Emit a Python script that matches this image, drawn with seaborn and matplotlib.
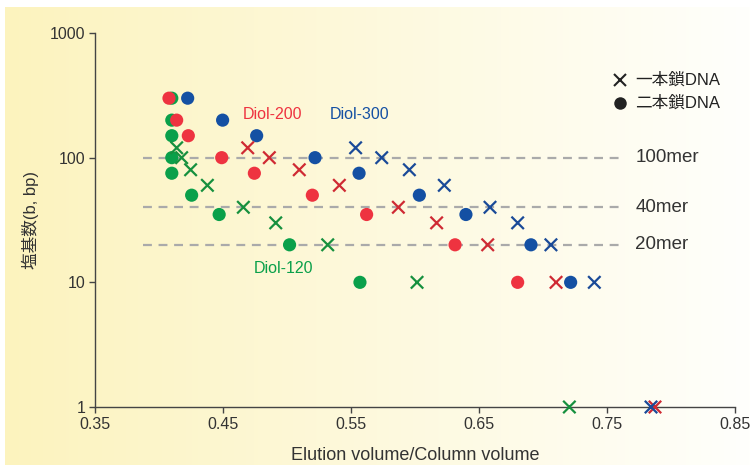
import numpy as np
import pandas as pd
import matplotlib
matplotlib.use("Agg")
import matplotlib.pyplot as plt
import seaborn as sns

# Double-stranded DNA (circles): elution volume / column volume vs. base pairs
ds_120_x = [0.410, 0.410, 0.410, 0.410, 0.410, 0.4255, 0.447, 0.502, 0.557]
ds_120_y = [300, 200, 150, 100, 75, 50, 35, 20, 10]
ds_200_x = [0.4078, 0.4138, 0.4229, 0.449, 0.4745, 0.5198, 0.5622, 0.6313, 0.6802]
ds_200_y = [300, 200, 150, 100, 75, 50, 35, 20, 10]
ds_300_x = [0.4224, 0.4497, 0.4763, 0.5219, 0.5563, 0.6034, 0.6398, 0.6906, 0.7216]
ds_300_y = [300, 200, 150, 100, 75, 50, 35, 20, 10]

# Single-stranded DNA (crosses)
ss_120_x = [0.4138, 0.4177, 0.4247, 0.4378, 0.4659, 0.4912, 0.5318, 0.6016, 0.7206]
ss_120_y = [120, 100, 80, 60, 40, 30, 20, 10, 1]
ss_200_x = [0.4693, 0.4862, 0.5096, 0.5409, 0.587, 0.6169, 0.6568, 0.7102, 0.7875]
ss_200_y = [120, 100, 80, 60, 40, 30, 20, 10, 1]
ss_300_x = [0.5536, 0.574, 0.5956, 0.6229, 0.6586, 0.6802, 0.7062, 0.7401, 0.7844]
ss_300_y = [120, 100, 80, 60, 40, 30, 20, 10, 1]

columns = ["Diol-120", "Diol-200", "Diol-300"]
ref_lengths = [100, 40, 20]
ref_labels = ["100mer", "40mer", "20mer"]
x_ticks = [0.35, 0.45, 0.55, 0.65, 0.75, 0.85]
y_ticks = [1, 10, 100, 1000]

dot_colors = {"Diol-120": "#0aa04a", "Diol-200": "#ee3340", "Diol-300": "#1450a3"}
cross_colors = {"Diol-120": "#16903e", "Diol-200": "#cf2a33", "Diol-300": "#1a4a98"}

ds = pd.DataFrame({
    "vol": ds_120_x + ds_200_x + ds_300_x,
    "bp": ds_120_y + ds_200_y + ds_300_y,
    "column": ["Diol-120"] * 9 + ["Diol-200"] * 9 + ["Diol-300"] * 9,
})
ss = pd.DataFrame({
    "vol": ss_120_x + ss_200_x + ss_300_x,
    "bp": ss_120_y + ss_200_y + ss_300_y,
    "column": ["Diol-120"] * 9 + ["Diol-200"] * 9 + ["Diol-300"] * 9,
})

sns.set_theme(style="white")
plt.rcParams["font.family"] = ["Liberation Sans", "Noto Sans CJK JP", "DejaVu Sans"]

fig = plt.figure(figsize=(7.5, 4.7), dpi=100)
fig.patch.set_facecolor("white")

# pale yellow-to-white backdrop
bg = fig.add_axes([5 / 750, 1 - 465 / 470, 745 / 750, 458 / 470], zorder=-10)
left_c = np.array([252, 243, 190]) / 255
right_c = np.array([255, 255, 252]) / 255
t = np.linspace(0, 1, 256)[None, :, None]
grad = left_c * (1 - t) + right_c * t
bg.imshow(grad, aspect="auto", extent=[0, 1, 0, 1])
bg.axis("off")

ax = fig.add_axes([95 / 750, 1 - 407 / 470, 640 / 750, 374 / 470])
ax.patch.set_alpha(0)
ax.set_yscale("log")
ax.set_xlim(0.35, 0.85)
ax.set_ylim(1, 1000)

for y, lab in zip(ref_lengths, ref_labels):
    ax.hlines(y, 0.3875, 0.764, colors="#aaaaaa", linestyles=(0, (4, 3)), lw=1.6, zorder=1)
    ax.text(0.772, y, lab, fontsize=13.5, color="#333333", va="center", ha="left")

sns.scatterplot(data=ds, x="vol", y="bp", hue="column", palette=dot_colors,
                marker="o", s=90, edgecolor="none", legend=False, ax=ax, zorder=3)
sns.scatterplot(data=ss, x="vol", y="bp", hue="column", palette=cross_colors,
                marker="x", s=80, linewidth=1.6, legend=False, ax=ax, zorder=4)
for coll in ax.collections:
    coll.set_clip_on(False)

ax.text(0.4883, 220, "Diol-200", color="#ee3340", fontsize=11.5, ha="center", va="center")
ax.text(0.5570, 222, "Diol-300", color="#1450a3", fontsize=11.5, ha="center", va="center")
ax.text(0.4969, 12.8, "Diol-120", color="#0aa04a", fontsize=11.5, ha="center", va="center")

# marker key
ax.plot([0.7605], [419], marker="x", color="#222222", ms=8, mew=1.5, ls="none", clip_on=False)
ax.text(0.7719, 419, "一本鎖DNA", fontsize=12, color="#222222", va="center", ha="left")
ax.plot([0.7605], [274], marker="o", color="#222222", ms=9, mec="none", ls="none", clip_on=False)
ax.text(0.7719, 274, "二本鎖DNA", fontsize=12, color="#222222", va="center", ha="left")

ax.set_xticks(x_ticks)
ax.set_xticklabels([f"{v:.2f}" for v in x_ticks])
ax.set_yticks(y_ticks)
ax.set_yticklabels([str(v) for v in y_ticks])
ax.minorticks_off()
ax.tick_params(axis="both", direction="out", length=4, width=1, color="#444444",
               labelsize=11.5, labelcolor="#333333", left=True, bottom=True, pad=3)
for side in ["top", "right"]:
    ax.spines[side].set_visible(False)
for side in ["left", "bottom"]:
    ax.spines[side].set_color("#444444")
    ax.spines[side].set_linewidth(1)

ax.set_xlabel("Elution volume/Column volume", fontsize=13, color="#333333", labelpad=11)
ax.set_ylabel("塩基数(b, bp)", fontsize=12, color="#333333", labelpad=8)

fig.savefig("out.png", dpi=100)
